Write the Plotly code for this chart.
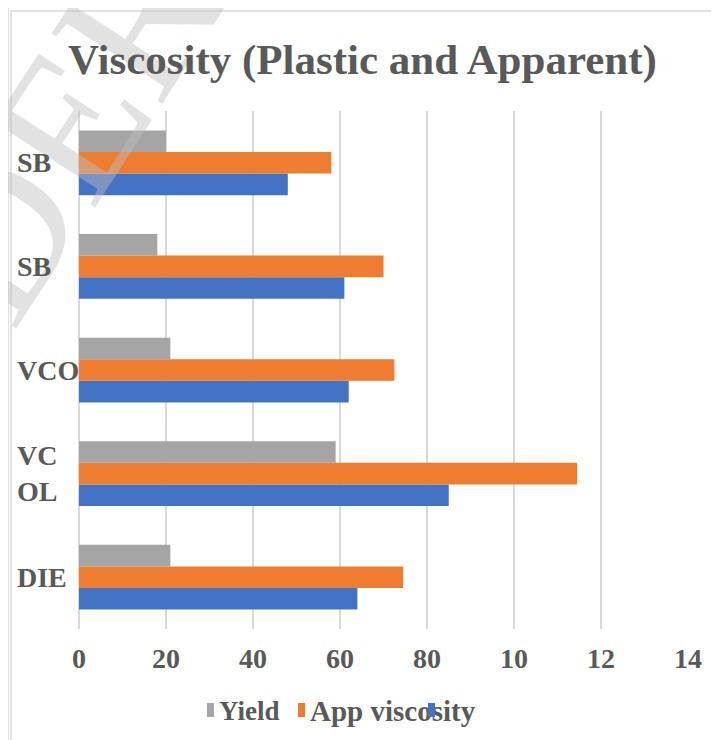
import plotly.graph_objects as go

# ---- data (bottom to top) ----
cat_ids = ["DIE", "VCOL", "VCO", "SB1", "SB2"]
cat_labels = ["DIE", "VC<br>OL", "VCO", "SB", "SB"]
plastic_visc = [64, 85, 62, 61, 48]
app_visc = [74.5, 114.5, 72.5, 70, 58]
yield_pt = [21, 59, 21, 18, 20]

tick_vals = [0, 20, 40, 60, 80, 100, 120, 140]
tick_text = ["0", "20", "40", "60", "80", "10", "12", "14"]

series_names = ["Plastic viscosity", "App viscosity", "Yield"]
colors = {"Yield": "#A5A5A5", "App viscosity": "#ED7D31", "Plastic viscosity": "#4472C4"}

OFF = 8  # page body margin
W, H = 711, 732
L, T = 71, 103
PW, PH = 609, 518
R, B = W - L - PW, H - T - PH


def px(x):
    return (x - OFF - L) / PW


def py(y):
    return (H - B - (y - OFF)) / PH


SERIF = "Liberation Serif, Times New Roman, serif"
TXT = "#595959"

fig = go.Figure()
for name, vals in zip(series_names, [plastic_visc, app_visc, yield_pt]):
    fig.add_trace(go.Bar(
        y=cat_ids, x=vals, orientation="h", name=name,
        marker=dict(color=colors[name], line=dict(width=0)),
        showlegend=False,
    ))

annotations = []
# watermark
annotations.append(dict(
    text="UNDER", xref="paper", yref="paper", x=px(-14), y=py(250),
    xanchor="center", yanchor="middle", showarrow=False, textangle=-57,
    font=dict(family=SERIF, size=200, color="rgba(190,190,190,0.45)"),
))
# title
annotations.append(dict(
    text="Viscosity (Plastic and Apparent)", xref="paper", yref="paper",
    x=px(362), y=py(60), xanchor="center", yanchor="middle", showarrow=False,
    font=dict(family=SERIF, size=43, color=TXT, weight="bold"),
))
# category labels
for cid, lab in zip(cat_ids, cat_labels):
    annotations.append(dict(
        text=lab, xref="paper", yref="y", x=px(15), y=cid,
        xanchor="left", yanchor="middle", showarrow=False, align="left",
        font=dict(family=SERIF, size=28, color=TXT, weight="bold"),
    ))
# manual legend
for name, tx, fs in [("Yield", 217, 27), ("App viscosity", 308, 29)]:
    annotations.append(dict(
        text=name, xref="paper", yref="paper", x=px(tx), y=py(711),
        xanchor="left", yanchor="middle", showarrow=False,
        font=dict(family=SERIF, size=fs, color=TXT, weight="bold"),
    ))
for name, cx in [("Yield", 210), ("App viscosity", 301.5), ("Plastic viscosity", 431.5)]:
    annotations.append(dict(
        text=" ", xref="paper", yref="paper", x=px(cx), y=py(710),
        xanchor="center", yanchor="middle", showarrow=False,
        width=7, height=14, borderpad=0, borderwidth=0,
        bgcolor=colors[name], font=dict(size=4),
    ))

shapes = [
    dict(type="rect", xref="paper", yref="paper", x0=px(11), x1=px(714),
         y0=py(760), y1=py(11), line=dict(color="#d9d9d9", width=1.5),
         fillcolor="rgba(0,0,0,0)", layer="below"),
    dict(type="line", xref="paper", yref="paper", x0=px(8.5), x1=px(8.5),
         y0=py(760), y1=py(0), line=dict(color="#e3e3e3", width=1.5), layer="below"),
]

fig.update_layout(
    width=W, height=H,
    margin=dict(l=L, r=R, t=T, b=B),
    paper_bgcolor="white", plot_bgcolor="white",
    barmode="group", bargap=0.375, bargroupgap=0,
    showlegend=False,
    annotations=annotations,
    shapes=shapes,
    xaxis=dict(
        range=[0, 140], tickvals=tick_vals, ticktext=tick_text,
        showgrid=True, gridcolor="#d9d9d9", gridwidth=1.5,
        zeroline=True, zerolinecolor="#d9d9d9", zerolinewidth=1.5,
        showline=False, ticks="", ticklabelstandoff=10,
        tickfont=dict(family=SERIF, size=28, color=TXT, weight="bold"),
        fixedrange=True,
    ),
    yaxis=dict(
        categoryorder="array", categoryarray=cat_ids,
        showticklabels=False, showgrid=False, zeroline=False, showline=False,
        ticks="", fixedrange=True,
    ),
)

fig.write_html("out.html")
